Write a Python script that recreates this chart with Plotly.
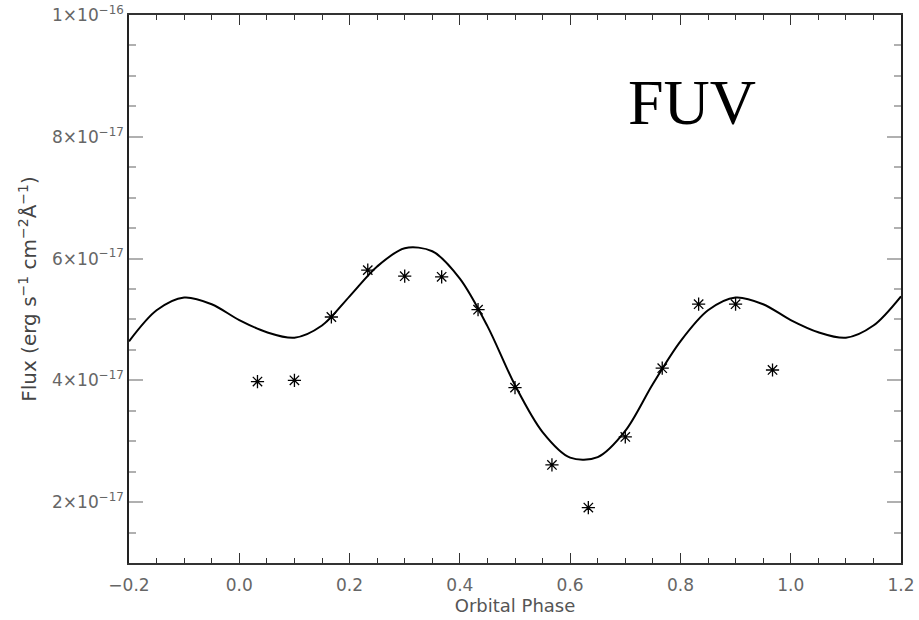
import plotly.graph_objects as go

# Observed FUV fluxes (units of 1e-17 erg s^-1 cm^-2 A^-1)
obs_phase = [0.033, 0.100, 0.167, 0.233, 0.300, 0.367, 0.433, 0.500,
             0.567, 0.633, 0.700, 0.767, 0.833, 0.900, 0.967]
obs_flux = [3.98, 4.00, 5.04, 5.81, 5.71, 5.70, 5.16, 3.88,
            2.61, 1.91, 3.07, 4.20, 5.25, 5.25, 4.17]

# Model light curve
model_phase = [-0.20, -0.15, -0.10, -0.05, 0.00, 0.05, 0.10, 0.15, 0.20, 0.25,
               0.30, 0.35, 0.40, 0.45, 0.50, 0.55, 0.60, 0.65, 0.70, 0.75,
               0.80, 0.85, 0.90, 0.95, 1.00, 1.05, 1.10, 1.15, 1.20]
model_flux = [4.64, 5.15, 5.36, 5.25, 4.99, 4.79, 4.70, 4.90, 5.38, 5.87,
              6.17, 6.12, 5.67, 4.89, 3.92, 3.15, 2.73, 2.74, 3.17, 3.94,
              4.64, 5.15, 5.36, 5.25, 4.99, 4.79, 4.70, 4.90, 5.38]

scale = 1e-17
x_ticks = [-0.2, 0.0, 0.2, 0.4, 0.6, 0.8, 1.0, 1.2]
x_labels = ["\u22120.2", "0.0", "0.2", "0.4", "0.6", "0.8", "1.0", "1.2"]
y_ticks = [2e-17, 4e-17, 6e-17, 8e-17, 1e-16]
y_labels = ["2\u00d710<sup>\u221217</sup>", "4\u00d710<sup>\u221217</sup>",
            "6\u00d710<sup>\u221217</sup>", "8\u00d710<sup>\u221217</sup>",
            "1\u00d710<sup>\u221216</sup>"]

fig = go.Figure()
fig.add_trace(go.Scatter(
    x=model_phase, y=[v * scale for v in model_flux],
    mode="lines", line=dict(color="black", width=2, shape="spline", smoothing=0.9),
    hoverinfo="skip", showlegend=False))
fig.add_trace(go.Scatter(
    x=obs_phase, y=[v * scale for v in obs_flux],
    mode="markers",
    marker=dict(symbol="asterisk-open", size=11, color="black",
                line=dict(color="black", width=1.3)),
    showlegend=False))

tickfont = dict(family="DejaVu Sans", size=17, color="#666666")

fig.update_xaxes(
    range=[-0.2, 1.2], tickvals=x_ticks, ticktext=x_labels,
    ticks="inside", ticklen=10, tickwidth=1, tickcolor="#333333",
    minor=dict(dtick=0.05, tick0=0, ticks="inside", ticklen=5, tickwidth=1, tickcolor="#333333"),
    showline=True, linecolor="#333333", linewidth=1.5, mirror="ticks",
    showgrid=False, zeroline=False, tickfont=tickfont, automargin=False,
    ticklabelstandoff=6,
    title=dict(text="Orbital Phase", font=dict(family="DejaVu Sans", size=18, color="#555555"), standoff=4))
fig.update_yaxes(
    range=[1e-17, 1e-16], tickvals=y_ticks, ticktext=y_labels,
    ticks="inside", ticklen=14, tickwidth=2, tickcolor="#b0b0b0",
    minor=dict(dtick=0.5e-17, tick0=0, ticks="inside", ticklen=7, tickwidth=2, tickcolor="#b0b0b0"),
    showline=True, linecolor="#222222", linewidth=1.5, mirror="ticks",
    showgrid=False, zeroline=False, tickfont=tickfont, automargin=False,
    title=dict(text="Flux (erg s<sup>\u22121</sup> cm<sup>\u22122</sup>\u00c5<sup>\u22121</sup>)",
               font=dict(family="DejaVu Sans", size=20, color="#444444"), standoff=10))

fig.add_annotation(x=0.821, y=0.841, xref="x", yref="paper", text="FUV",
                   showarrow=False, xanchor="center", yanchor="middle",
                   font=dict(family="Liberation Serif", size=64, color="black"))

fig.update_layout(
    width=919, height=620,
    margin=dict(l=129, r=18, t=15, b=57),
    plot_bgcolor="white", paper_bgcolor="white")

fig.write_html("out.html")
